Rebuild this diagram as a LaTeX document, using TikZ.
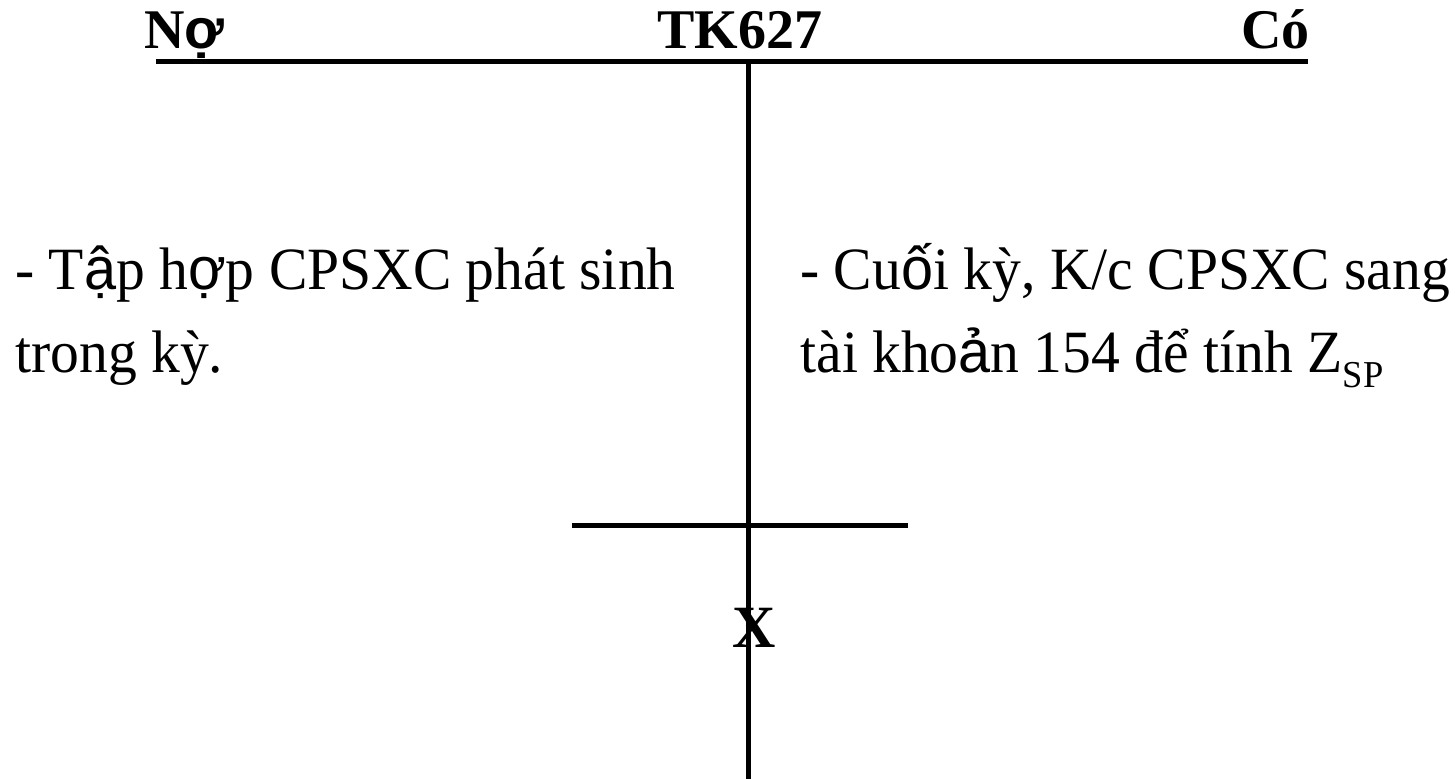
\documentclass[tikz,border=0pt]{standalone}
\usepackage{fontspec}
\setmainfont{Liberation Serif}
\newfontfamily\bodyfont[FakeStretch=0.96]{Liberation Serif}
\newfontfamily\fbfont{Liberation Sans}
\newfontfamily\fbbodyfont[FakeStretch=0.96]{Liberation Sans}
\usetikzlibrary{positioning}

% glyphs that the reference shows in a sans fallback face
\newcommand{\fb}[1]{{\fbfont #1}}
\newcommand{\fbb}[1]{{\fbbodyfont #1}}

\begin{document}
\begin{tikzpicture}[x=0.5pt, y=-0.5pt,
      hdr/.style={font=\fontsize{28}{32}\selectfont\bfseries, inner sep=0pt, anchor=base},
      txt/.style={font=\bodyfont\fontsize{30}{36}\selectfont, inner sep=0pt, anchor=base west},
      tline/.style={line width=2.5pt}]
      \useasboundingbox (0,0) rectangle (1455,779);
      % the T account
      \coordinate (topl) at (156,62);
      \coordinate (topr) at (1308,62);
      \coordinate (mid) at (748,62);
      \coordinate (bot) at (748,779);
      \coordinate (bal_l) at (572,526);
      \coordinate (bal_r) at (908,526);
      \draw[tline] (topl) -- (topr);
      \draw[tline] (mid) -- (bot);
      \draw[tline] (bal_l) -- (bal_r);
      % headings
      \node[hdr, anchor=base west] (no) at (144,49) {N\fb{ợ}};
      \node[hdr] (tk) at (740,49) {TK627};
      \node[hdr, anchor=base east] (co) at (1310,49) {Có};
      % debit side
      \node[txt] (debit1) at (15,290) {- T\fbb{ậ}p h\fbb{ợ}p CPSXC phát sinh};
      \node[txt] (debit2) at (15,373) {trong kỳ.};
      % credit side
      \node[txt] (credit1) at (800,290) {- Cu\fbb{ố}i kỳ, K/c CPSXC sang};
      \node[txt] (credit2) at (800,373) {tài kho\fbb{ả}n 154 để tính Z\raisebox{-7.5pt}{\fontsize{19}{20}\selectfont SP}};
      % balance
      \node[hdr, font=\fontsize{30}{36}\selectfont\bfseries] (x) at (754,647) {X};
\end{tikzpicture}
\end{document}
